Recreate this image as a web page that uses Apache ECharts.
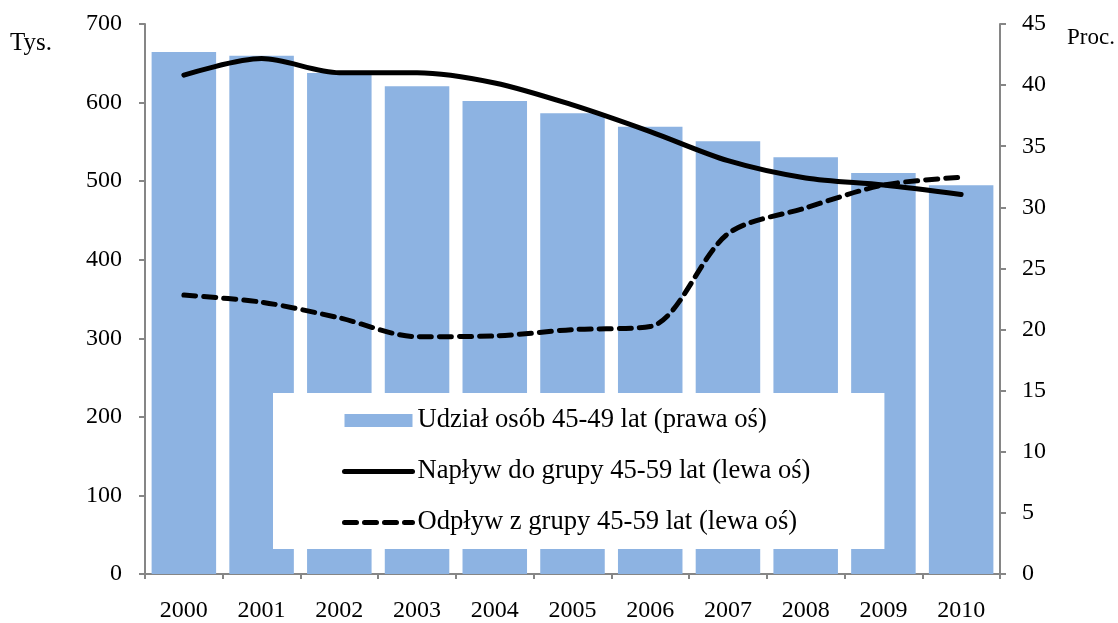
<!DOCTYPE html>
<html>
<head>
<meta charset="utf-8">
<script src="https://cdn.jsdelivr.net/npm/echarts@6/dist/echarts.min.js"></script>
<style>
  html, body { margin: 0; padding: 0; background: #fff; }
  #chart { width: 1118px; height: 623px; }
</style>
</head>
<body>
<div id="chart"></div>
<script>
// Years on the category axis
const years = ['2000', '2001', '2002', '2003', '2004', '2005', '2006', '2007', '2008', '2009', '2010'];
// Share of persons aged 45-49 (%), right axis
const share4549 = [42.7, 42.4, 41.0, 39.9, 38.7, 37.7, 36.6, 35.4, 34.1, 32.8, 31.8];
// Inflow into the 45-59 group (thousands), left axis
const inflow = [635, 656, 638, 638, 625, 597, 563, 526, 504, 495, 483];
// Outflow from the 45-59 group (thousands), left axis
const outflow = [355, 346, 326, 302, 303, 311, 315, 433, 466, 495, 505];

const names = [
  'Udział osób 45-49 lat (prawa oś)',
  'Napływ do grupy 45-59 lat (lewa oś)',
  'Odpływ z grupy 45-59 lat (lewa oś)'
];

const font = 'Liberation Serif, Times New Roman, serif';
const axisGrey = '#868686';

const chart = echarts.init(document.getElementById('chart'), null, { renderer: 'canvas' });
chart.setOption({
  animation: false,
  backgroundColor: '#fff',
  textStyle: { fontFamily: font, color: '#000' },
  grid: { left: 145, right: 118, top: 24, bottom: 46 },
  graphic: [
    { type: 'text', left: 10, top: 31, style: { text: 'Tys.', font: '25px ' + font, fill: '#000' } },
    { type: 'text', left: 1067, top: 26, style: { text: 'Proc.', font: '23px ' + font, fill: '#000' } }
  ],
  legend: {
    orient: 'vertical',
    left: 273,
    top: 393,
    backgroundColor: '#fff',
    padding: [14, 74, 13, 69],
    itemGap: 24,
    itemWidth: 68,
    itemHeight: 13,
    textStyle: { fontFamily: font, fontSize: 26.6, color: '#000', lineHeight: 26 },
    data: [
      { name: names[0], icon: 'rect' },
      { name: names[1], itemStyle: { opacity: 0 }, lineStyle: { width: 5, color: '#000' } },
      { name: names[2], itemStyle: { opacity: 0 }, lineStyle: { width: 5, color: '#000', type: [12, 8], cap: 'round' } }
    ]
  },
  xAxis: {
    type: 'category',
    data: years,
    boundaryGap: true,
    axisLine: { lineStyle: { color: axisGrey, width: 2 } },
    axisTick: { show: true, length: 5, lineStyle: { color: axisGrey, width: 2 } },
    axisLabel: { fontFamily: font, fontSize: 24, color: '#000', margin: 25 }
  },
  yAxis: [
    {
      type: 'value',
      min: 0, max: 700, interval: 100,
      position: 'left',
      splitLine: { show: false },
      axisLine: { show: true, lineStyle: { color: axisGrey, width: 2 } },
      axisTick: { show: true, length: 6, lineStyle: { color: axisGrey, width: 2 } },
      axisLabel: { fontFamily: font, fontSize: 24, color: '#000', margin: 23 }
    },
    {
      type: 'value',
      min: 0, max: 45, interval: 5,
      position: 'right',
      splitLine: { show: false },
      axisLine: { show: true, lineStyle: { color: axisGrey, width: 2 } },
      axisTick: { show: true, length: 6, lineStyle: { color: axisGrey, width: 2 } },
      axisLabel: { fontFamily: font, fontSize: 24, color: '#000', margin: 22 }
    }
  ],
  series: [
    {
      name: names[0],
      type: 'bar',
      yAxisIndex: 1,
      data: share4549,
      barCategoryGap: '17%',
      itemStyle: { color: '#8DB3E2' },
      z: 1
    },
    {
      name: names[1],
      type: 'line',
      yAxisIndex: 0,
      data: inflow,
      smooth: 0.3,
      symbol: 'none',
      lineStyle: { color: '#000', width: 5, cap: 'round', join: 'round' },
      itemStyle: { color: '#000' },
      z: 3
    },
    {
      name: names[2],
      type: 'line',
      yAxisIndex: 0,
      data: outflow,
      smooth: 0.3,
      symbol: 'none',
      lineStyle: { color: '#000', width: 5, type: [12, 8], cap: 'round', join: 'round' },
      itemStyle: { color: '#000' },
      z: 3
    }
  ]
});
</script>
</body>
</html>
